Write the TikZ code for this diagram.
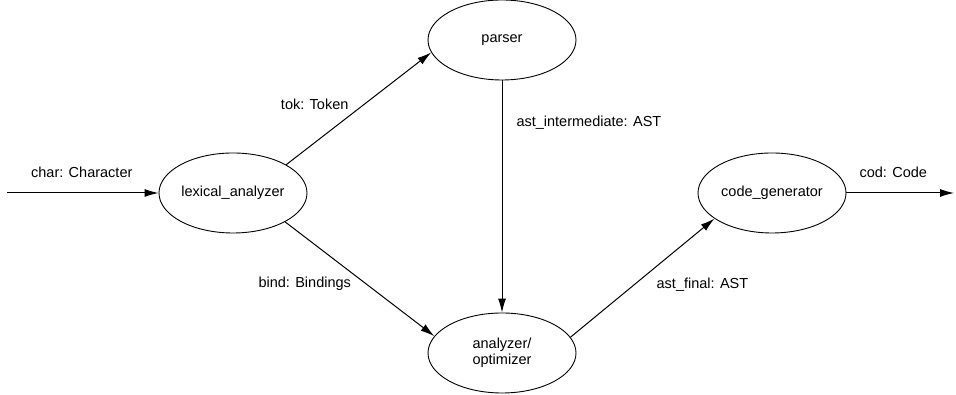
\documentclass[tikz,border=0pt]{standalone}
\usepackage{fontspec}
\setmainfont{Liberation Sans}
\usetikzlibrary{shapes,arrows.meta}

\begin{document}
\begin{tikzpicture}[x=1pt,y=1pt]
        \tikzset{Stage/.style={ellipse,draw,line width=0.9pt,minimum width=148pt,
                               minimum height=80pt,inner sep=0pt,align=center,
                               font=\fontsize{14.5}{16}\selectfont}}
        \tikzset{Flow/.style={line width=1pt,-{Latex[length=14pt,width=8pt]}}}
        \tikzset{FlowLabel/.style={inner sep=0pt,font=\fontsize{14.5}{16}\selectfont}}

        \useasboundingbox (0,0) rectangle (956,395);

        \node[Stage] (LEX)  at (233,202) {lexical\_analyzer};
        \node[Stage] (PARS) at (502,355) {parser};
        \node[Stage] (OPT)  at (502,42)  {analyzer/\\optimizer};
        \node[Stage] (GEN)  at (772,202) {code\_generator};

        \coordinate (IN)  at (7,202);
        \coordinate (OUT) at (954,202);

        \draw[Flow] (IN) -- (LEX)
            node[FlowLabel,pos=.5,xshift=-1pt,yshift=21pt] {char: Character};
        \draw[Flow] (LEX.28) -- (PARS.190)
            node[FlowLabel,pos=.5,xshift=-44pt,yshift=4pt] {tok: Token};
        \draw[Flow] (LEX.-29) -- (OPT.166)
            node[FlowLabel,pos=.5,xshift=-55pt,yshift=-5pt] {bind: Bindings};
        \draw[Flow] (PARS) -- (OPT)
            node[FlowLabel,pos=.18,anchor=west,xshift=14pt] {ast\_intermediate: AST};
        \draw[Flow] (OPT.13) -- (GEN.204)
            node[FlowLabel,pos=.5,xshift=60pt,yshift=-7pt] {ast\_final: AST};
        \draw[Flow] (GEN) -- (OUT)
            node[FlowLabel,pos=.5,xshift=-7pt,yshift=21pt] {cod: Code};
\end{tikzpicture}
\end{document}
